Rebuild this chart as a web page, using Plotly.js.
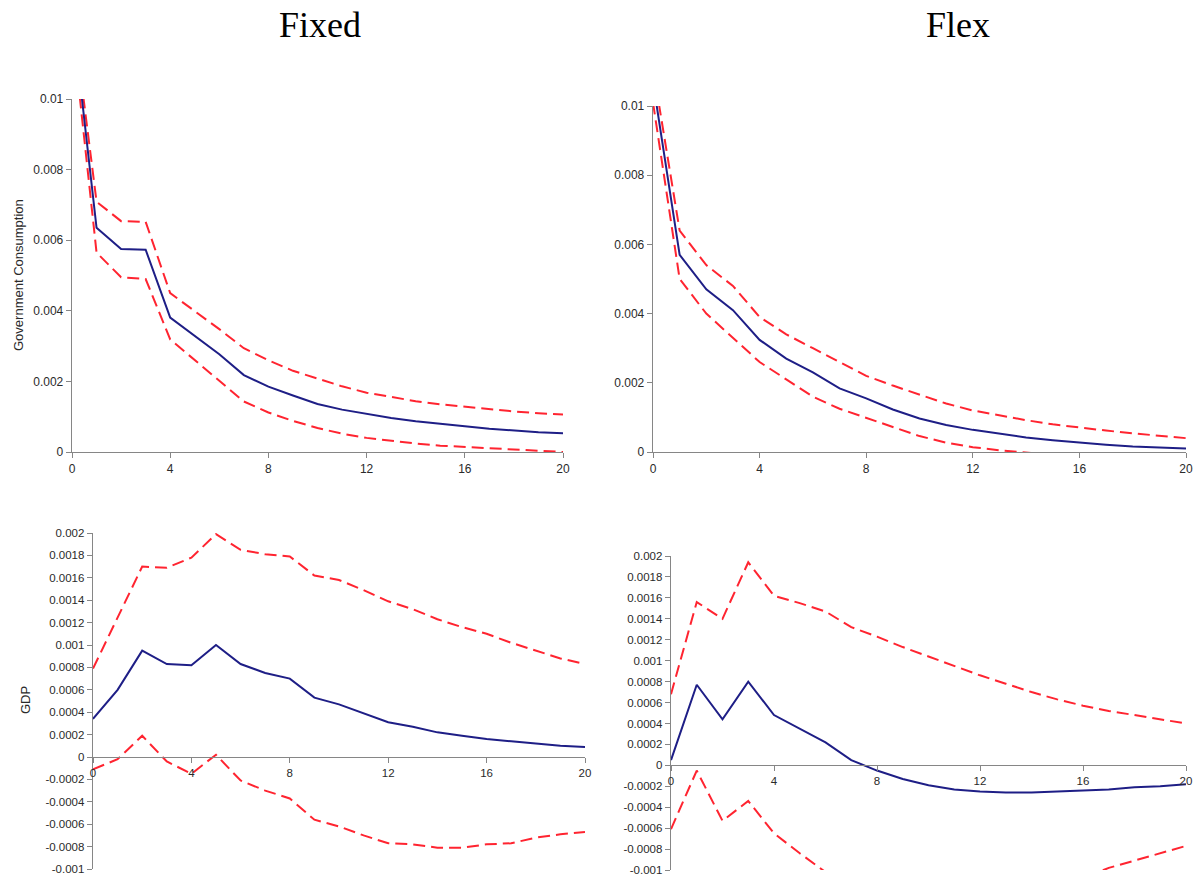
<!DOCTYPE html>
<html>
<head>
<meta charset="utf-8">
<script src="https://cdn.plot.ly/plotly-3.0.1.min.js"></script>
<style>html,body{margin:0;padding:0;background:#fff;}#chart{width:1203px;height:883px;}</style>
</head>
<body>
<div id="chart"></div>
<script>
// ---- data ----
const periods = [0,1,2,3,4,5,6,7,8,9,10,11,12,13,14,15,16,17,18,19,20];

const fixedGovMean  = [0.0125,0.00635,0.00575,0.00573,0.00381,0.0033,0.00277,0.00218,0.00185,0.0016,0.00136,0.0012,0.00107,0.00096,0.00087,0.00079,0.00073,0.00066,0.0006,0.00056,0.00053];
const fixedGovUpper = [0.0126,0.00709,0.00654,0.00652,0.0045,0.004,0.00348,0.00294,0.0026,0.0023,0.00207,0.00186,0.00168,0.00155,0.00144,0.00135,0.00128,0.0012,0.00115,0.0011,0.00106];
const fixedGovLower = [0.0121,0.00565,0.00495,0.0049,0.00319,0.0026,0.002,0.00143,0.00112,0.00088,0.00068,0.00052,0.0004,0.00031,0.00024,0.00018,0.00014,0.0001,0.00006,0.00003,0.0];

const flexGovMean  = [0.0107,0.0057,0.0047,0.0041,0.00324,0.0027,0.0023,0.00184,0.00155,0.00123,0.00097,0.00078,0.00064,0.00052,0.00042,0.00034,0.00027,0.00021,0.00016,0.00012,0.0001];
const flexGovUpper = [0.0111,0.0064,0.0054,0.0048,0.0039,0.0034,0.003,0.0026,0.0022,0.00192,0.00165,0.0014,0.0012,0.00105,0.00092,0.0008,0.0007,0.00062,0.00054,0.00047,0.0004];
const flexGovLower = [0.0101,0.005,0.004,0.0033,0.0026,0.0021,0.0016,0.00125,0.00098,0.00072,0.00046,0.00027,0.00014,0.00005,-0.00002,-0.0001,-0.00015,-0.0002,-0.00024,-0.00027,-0.0003];

const fixedGdpMean  = [0.00034,0.0006,0.00095,0.00083,0.00082,0.001,0.00083,0.00075,0.0007,0.00053,0.00047,0.00039,0.00031,0.00027,0.00022,0.00019,0.00016,0.00014,0.00012,0.0001,0.00009];
const fixedGdpUpper = [0.00079,0.00125,0.0017,0.00169,0.00178,0.00199,0.00185,0.00181,0.00179,0.00162,0.00158,0.00149,0.00139,0.00132,0.00123,0.00116,0.0011,0.00102,0.00095,0.00088,0.00083];
const fixedGdpLower = [-0.00011,-0.00002,0.00019,-0.00004,-0.00015,0.00002,-0.00021,-0.0003,-0.00037,-0.00056,-0.00062,-0.0007,-0.00077,-0.00078,-0.00081,-0.00081,-0.00078,-0.00077,-0.00072,-0.00069,-0.00067];

const flexGdpMean  = [0.00005,0.00077,0.00044,0.0008,0.00048,0.00035,0.00022,0.00005,-0.00005,-0.00013,-0.00019,-0.00023,-0.00025,-0.00026,-0.00026,-0.00025,-0.00024,-0.00023,-0.00021,-0.0002,-0.00018];
const flexGdpUpper = [0.00068,0.00156,0.0014,0.00194,0.00162,0.00155,0.00147,0.00132,0.00123,0.00113,0.00104,0.00095,0.00086,0.00078,0.0007,0.00063,0.00057,0.00052,0.00048,0.00044,0.0004];
const flexGdpLower = [-0.00061,-0.00005,-0.00053,-0.00034,-0.00065,-0.00084,-0.00102,-0.00118,-0.0013,-0.0014,-0.00145,-0.00148,-0.00148,-0.00144,-0.00136,-0.00124,-0.00108,-0.00098,-0.00091,-0.00084,-0.00077];

const xTickVals = [0,4,8,12,16,20];
const xTickText = ["0","4","8","12","16","20"];
const govTickVals = [0,0.002,0.004,0.006,0.008,0.01];
const govTickText = ["0","0.002","0.004","0.006","0.008","0.01"];
const gdpTickVals = [-0.001,-0.0008,-0.0006,-0.0004,-0.0002,0,0.0002,0.0004,0.0006,0.0008,0.001,0.0012,0.0014,0.0016,0.0018,0.002];
const gdpTickText = ["-0.001","-0.0008","-0.0006","-0.0004","-0.0002","0","0.0002","0.0004","0.0006","0.0008","0.001","0.0012","0.0014","0.0016","0.0018","0.002"];

const panelTitles = ["Fixed","Flex"];
const yLabels = ["Government Consumption","GDP"];

// ---- styling ----
const BLUE = '#1e1e86';
const RED = '#ff2430';
const AXIS = '#868686';
const TXT = '#2a2a2a';
const W = 1203, H = 883;

function traces(mean, upper, lower, xa, ya) {
  return [
    {x: periods, y: upper, xaxis: xa, yaxis: ya, mode: 'lines', line: {color: RED, width: 2, dash: '12px,6px'}, hoverinfo: 'skip'},
    {x: periods, y: lower, xaxis: xa, yaxis: ya, mode: 'lines', line: {color: RED, width: 2, dash: '12px,6px'}, hoverinfo: 'skip'},
    {x: periods, y: mean, xaxis: xa, yaxis: ya, mode: 'lines', line: {color: BLUE, width: 2}, hoverinfo: 'skip'}
  ];
}

const data = [].concat(
  traces(fixedGovMean, fixedGovUpper, fixedGovLower, 'x', 'y'),
  traces(flexGovMean, flexGovUpper, flexGovLower, 'x2', 'y2'),
  traces(fixedGdpMean, fixedGdpUpper, fixedGdpLower, 'x3', 'y3'),
  traces(flexGdpMean, flexGdpUpper, flexGdpLower, 'x4', 'y4')
);

const tickFont = {family: 'Liberation Sans, Arial, sans-serif', size: 12, color: TXT};
const tickFontS = {family: 'Liberation Sans, Arial, sans-serif', size: 11.5, color: TXT};

function xAxis(left, right, extra) {
  return Object.assign({
    domain: [left / W, right / W], range: [0, 20], showgrid: false, zeroline: false,
    showline: true, linecolor: AXIS, linewidth: 1.3, ticks: 'outside', ticklen: 5, tickcolor: AXIS, tickwidth: 1,
    tickvals: xTickVals, ticktext: xTickText, tickfont: tickFont, fixedrange: true
  }, extra);
}
function yAxis(top, bottom, range, tv, tt, anchor, font) {
  return {
    domain: [1 - bottom / H, 1 - top / H], range: range, anchor: anchor, showgrid: false, zeroline: false,
    showline: true, linecolor: AXIS, linewidth: 1.3, ticks: 'outside', ticklen: 5, tickcolor: AXIS, tickwidth: 1,
    tickvals: tv, ticktext: tt, tickfont: font, fixedrange: true
  };
}

const layout = {
  width: W, height: H,
  margin: {l: 0, r: 0, t: 0, b: 0},
  paper_bgcolor: '#fff', plot_bgcolor: '#fff',
  showlegend: false,
  xaxis:  xAxis(72, 563, {anchor: 'y'}),
  yaxis:  yAxis(99, 452, [0, 0.01], govTickVals, govTickText, 'x', tickFont),
  xaxis2: xAxis(653, 1186, {anchor: 'y2'}),
  yaxis2: yAxis(106, 452, [0, 0.01], govTickVals, govTickText, 'x2', tickFont),
  xaxis3: xAxis(93, 585, {anchor: 'free', position: 1 - 756.7 / H, tickfont: tickFontS}),
  yaxis3: yAxis(533, 869, [-0.001, 0.002], gdpTickVals, gdpTickText, 'x3', tickFontS),
  xaxis4: xAxis(671, 1186, {anchor: 'free', position: 1 - 765 / H, tickfont: tickFontS}),
  yaxis4: yAxis(556, 870, [-0.001, 0.002], gdpTickVals, gdpTickText, 'x4', tickFontS),
  annotations: [
    {text: panelTitles[0], x: 320 / W, y: 1 - 25 / H, xref: 'paper', yref: 'paper', showarrow: false,
     xanchor: 'center', yanchor: 'middle', font: {family: 'Liberation Serif, Times New Roman, serif', size: 36, color: '#000'}},
    {text: panelTitles[1], x: 958 / W, y: 1 - 25 / H, xref: 'paper', yref: 'paper', showarrow: false,
     xanchor: 'center', yanchor: 'middle', font: {family: 'Liberation Serif, Times New Roman, serif', size: 36, color: '#000'}},
    {text: yLabels[0], x: 18 / W, y: 1 - 275 / H, xref: 'paper', yref: 'paper', showarrow: false, textangle: -90,
     xanchor: 'center', yanchor: 'middle', font: {family: 'Liberation Sans, Arial, sans-serif', size: 13, color: TXT}},
    {text: yLabels[1], x: 25 / W, y: 1 - 700 / H, xref: 'paper', yref: 'paper', showarrow: false, textangle: -90,
     xanchor: 'center', yanchor: 'middle', font: {family: 'Liberation Sans, Arial, sans-serif', size: 13, color: TXT}}
  ]
};

Plotly.newPlot('chart', data, layout, {displayModeBar: false, staticPlot: true});
</script>
</body>
</html>
